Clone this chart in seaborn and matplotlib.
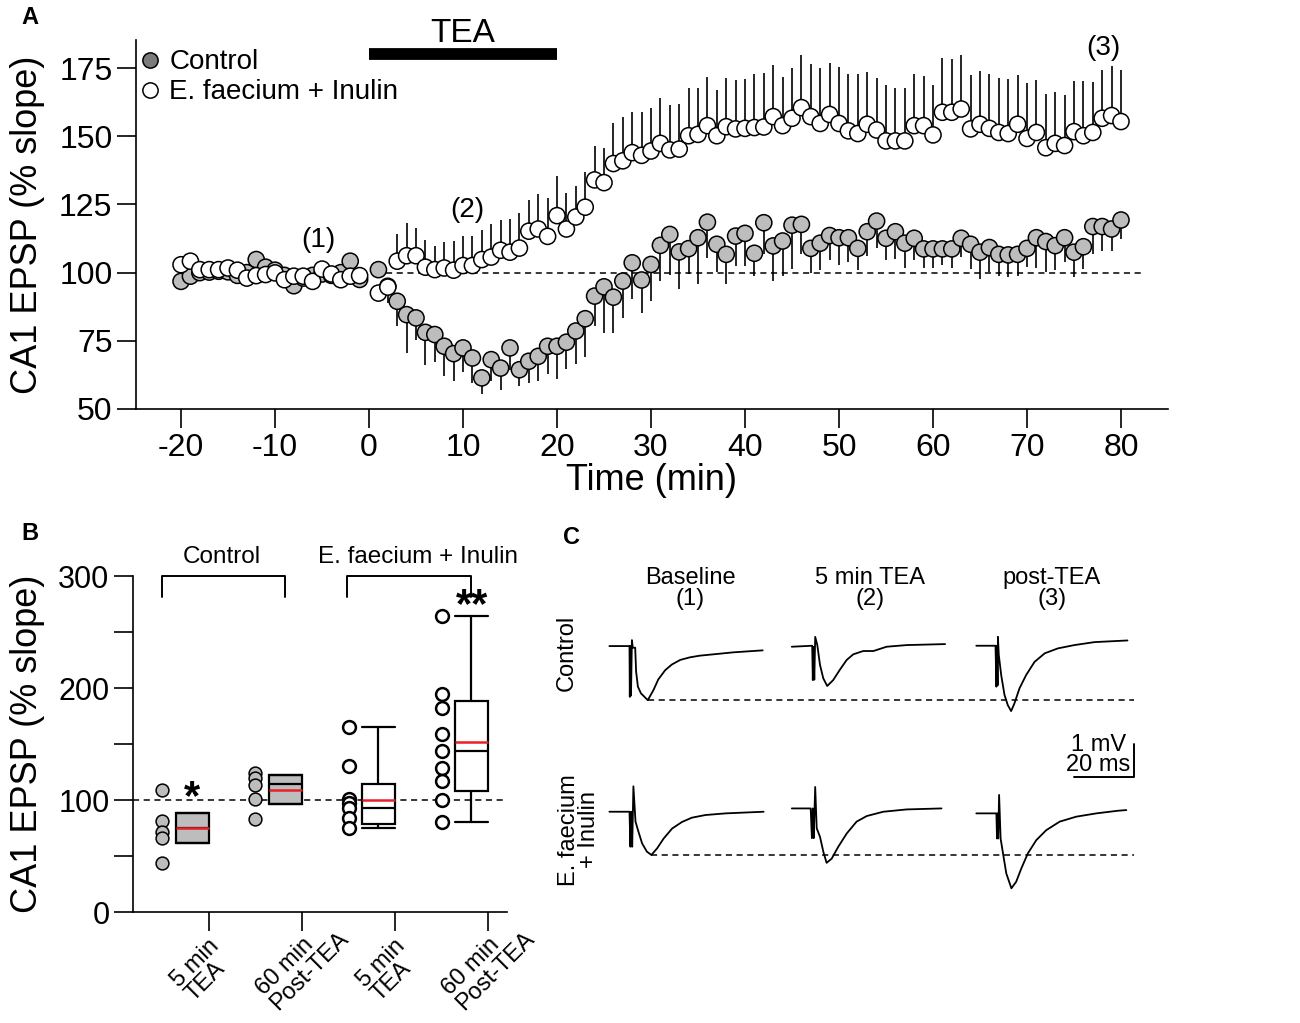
import matplotlib
matplotlib.use("Agg")
import matplotlib.pyplot as plt
from matplotlib.lines import Line2D
import pandas as pd
import seaborn as sns

# ---------------- panel A : fEPSP slope time course (% of baseline) ----------------
time_min = list(range(-20, 0)) + list(range(1, 81))

ctrl_mean = [96.8, 98.7, 100.0, 100.2, 100.5, 100.3, 99.0, 100.0, 104.8, 102.0,
             100.9, 99.0, 95.2, 98.0, 99.0, 99.5, 99.0, 100.0, 104.2, 97.5,
             101.1, 95.0, 89.5, 84.6, 83.4, 78.1, 77.3, 73.0, 70.3, 72.4,
             68.7, 61.4, 68.1, 65.0, 72.4, 64.4, 67.5, 69.3, 73.0, 73.0,
             74.5, 78.6, 83.1, 91.4, 94.8, 91.0, 96.9, 103.6, 97.3, 103.0,
             110.0, 114.0, 107.6, 108.8, 112.8, 118.5, 110.4, 106.7, 113.4, 114.4,
             107.1, 118.3, 109.8, 111.6, 117.4, 117.7, 108.9, 110.8, 113.6, 112.8,
             112.8, 108.9, 115.0, 118.9, 112.6, 115.0, 110.8, 112.6, 108.7, 108.7,
             108.7, 108.7, 112.6, 110.4, 107.5, 109.2, 106.7, 106.5, 106.7, 108.9,
             112.8, 111.4, 109.9, 112.8, 107.5, 109.5, 116.9, 116.9, 116.0, 119.3]
ctrl_sem = [2.0, 1.8, 1.5, 1.6, 1.4, 1.5, 1.7, 1.6, 2.1, 1.8,
            1.6, 1.7, 2.2, 1.8, 1.6, 1.5, 1.7, 1.8, 2.0, 1.9,
            2, 6, 9, 14, 8, 12, 10, 11, 10, 9,
            9, 6, 8, 8, 8, 6, 8, 9, 10, 12,
            10, 12, 14, 11, 17, 13, 13.5, 13.4, 12, 13.5,
            13, 14.7, 13.7, 9.4, 17, 13, 10, 11, 11, 12,
            8.3, 11.6, 12.8, 12.8, 16, 11, 9, 10, 9, 10,
            9, 8, 9, 10, 8, 10, 9, 8, 7, 7,
            6, 7, 7, 9, 10, 9, 8, 8, 8, 7,
            11, 11, 9, 9, 9, 8, 10, 9, 8, 7]

efi_mean = [102.9, 104.2, 101.1, 101.1, 101.1, 101.7, 100.9, 98.0, 98.9, 99.3,
            99.9, 97.4, 98.7, 98.7, 96.8, 101.3, 99.5, 97.4, 98.7, 98.9,
            92.5, 94.7, 104.2, 106.2, 106.2, 102.0, 101.1, 101.7, 100.9, 102.6,
            102.6, 104.8, 105.7, 108.2, 107.5, 109.0, 115.2, 116.0, 113.3, 120.9,
            116.0, 120.4, 124.0, 134.0, 133.0, 140.0, 141.0, 144.0, 143.0, 144.6,
            147.4, 145.0, 145.3, 150.2, 150.7, 153.9, 150.2, 153.5, 152.7, 152.9,
            153.2, 153.4, 157.2, 153.9, 156.6, 160.5, 157.2, 154.7, 158.0, 154.7,
            152.0, 151.0, 154.4, 152.3, 148.3, 148.3, 148.3, 153.9, 153.9, 150.5,
            158.8, 158.8, 160.0, 152.7, 154.4, 152.9, 151.4, 151.0, 154.4, 149.2,
            151.4, 145.8, 147.4, 146.6, 151.7, 150.2, 151.4, 156.6, 157.6, 155.4]
efi_sem = [1.5, 1.8, 1.4, 1.5, 1.6, 1.5, 1.4, 1.7, 1.6, 1.5,
           1.8, 1.6, 1.5, 1.7, 1.9, 1.6, 1.5, 1.8, 1.6, 1.7,
           2, 3, 10, 12, 10, 10, 8.5, 9.4, 10.6, 11,
           10.7, 11, 12, 11, 12, 13, 11.6, 13, 14, 14.4,
           13.2, 11.5, 13, 12.6, 12.8, 15, 16, 15, 16, 15.6,
           16.8, 16.5, 16.4, 17.4, 17, 18, 16.8, 17.7, 18, 18,
           19.5, 19.7, 19, 18, 18.5, 19.3, 19.2, 20.3, 18.7, 20.8,
           21, 21.7, 19.3, 19.2, 20.5, 19.5, 19.5, 18.8, 18.3, 18.3,
           20, 19.5, 19.8, 19.8, 19.6, 20, 19.8, 20, 18, 20.2,
           19.2, 19.6, 19, 18.5, 18.6, 20, 18.4, 17.7, 18.3, 19]

# ---------------- panel B : individual slices and box summaries ----------------
group_ticks = ['5 min\nTEA', '60 min\nPost-TEA', '5 min\nTEA', '60 min\nPost-TEA']
ctrl_5min = [109, 81, 71, 66, 44]
ctrl_60min = [124, 120, 113, 101, 83]
efi_5min = [165, 130, 101, 97, 93, 84, 75]
efi_60min = [264, 195, 182, 159, 144, 129, 117, 100, 80]

box_q1 = [62, 96, 79, 108]
box_q3 = [88, 122, 114, 188]
box_median = [75, 114, 93, 144]
box_mean = [75, 109, 100, 152]
box_whislo = [62, 96, 75, 80]
box_whishi = [88, 122, 165, 264]

# ---------------- panel C : example traces (ms, mV from pre-stimulus baseline) ----------------
ctrl_base_t = [0, 6.7, 6.8, 7.0, 7.2, 7.5, 7.8, 8.6, 8.9, 9.5, 10.5, 12.8, 14.7, 16.3, 18.6,
               20.8, 23.6, 26.9, 30.2, 35.8, 41.3, 51.1]
ctrl_base_v = [0, 0, -1.54, 0, -1.5, 0.18, -0.05, -0.05, -0.77, -1.23, -1.43, -1.64, -1.33,
               -1.01, -0.73, -0.56, -0.42, -0.34, -0.29, -0.24, -0.19, -0.13]
ctrl_tea_t = [0, 6.8, 7.0, 7.2, 7.5, 7.8, 8.5, 9.4, 10.5, 11.8, 13.8, 16.0, 18.3, 20.5, 23.8,
              27.2, 31.6, 38.3, 51.1]
ctrl_tea_v = [0, 0.03, -1.01, 0, -1.0, 0.3, 0.05, -0.55, -0.96, -1.19, -1.01, -0.7, -0.4,
              -0.23, -0.13, -0.13, 0, 0.05, 0.08]
ctrl_post_t = [0, 6.4, 6.7, 6.9, 7.1, 7.2, 7.5, 8.3, 9.4, 10.5, 11.6, 12.7, 14.4, 16.6, 19.4,
               22.8, 27.2, 32.7, 39.4, 50.4]
ctrl_post_v = [0, 0, -1.24, 0, -1.2, 0.27, -0.28, -0.89, -1.49, -1.8, -1.98, -1.75, -1.29,
               -0.89, -0.49, -0.23, -0.08, 0.02, 0.11, 0.16]
efi_base_t = [0, 6.7, 7.0, 7.3, 7.6, 8.0, 8.7, 9.5, 10.9, 12.5, 14.0, 15.9, 18.1, 20.9, 24.2,
              27.5, 32.0, 38.7, 51.4]
efi_base_v = [0, 0, -1.06, 0, -1.06, 0.77, -0.3, -0.55, -0.96, -1.21, -1.31, -1.11, -0.81,
              -0.51, -0.31, -0.18, -0.1, -0.05, 0]
efi_tea_t = [0, 6.3, 6.7, 7.0, 7.3, 7.8, 8.3, 9.4, 10.5, 11.6, 13.3, 15.5, 18.3, 21.6, 25.0,
             30.5, 38.3, 49.9]
efi_tea_v = [0, 0, -0.9, 0, -0.9, 0.65, -0.6, -0.86, -1.31, -1.65, -1.52, -1.16, -0.76, -0.4,
             -0.23, -0.1, -0.03, 0]
efi_post_t = [0, 6.7, 6.9, 7.1, 7.3, 7.6, 8.1, 8.9, 10.0, 11.7, 13.3, 15.0, 17.2, 20.0, 23.3,
              27.8, 33.3, 40.0, 47.2, 50.0]
efi_post_v = [0, 0, -0.76, 0, -0.76, 0.56, -0.76, -1.21, -1.82, -2.27, -2.07, -1.67, -1.21,
              -0.81, -0.51, -0.25, -0.1, 0, 0.08, 0.1]
trace_titles = ['Baseline\n(1)', '5 min TEA\n(2)', 'post-TEA\n(3)']

sns.set_style('ticks')
plt.rcParams['font.family'] = ['Liberation Sans', 'DejaVu Sans']
plt.rcParams['axes.unicode_minus'] = False
plt.rcParams['axes.linewidth'] = 1.2
plt.rcParams['axes.edgecolor'] = 'black'
plt.rcParams['text.color'] = 'black'
plt.rcParams['axes.labelcolor'] = 'black'
plt.rcParams['xtick.color'] = 'black'
plt.rcParams['ytick.color'] = 'black'

W, H = 1300, 1023
fig = plt.figure(figsize=(W / 100, H / 100), dpi=100)


def px_rect(left, top, right, bottom):
    return [left / W, 1 - bottom / H, (right - left) / W, (bottom - top) / H]


gray_pt = '#bdbdbd'

# ---------------- A ----------------
ax = fig.add_axes(px_rect(136, 40, 1168, 409))
df_a = pd.DataFrame({
    'time': time_min + time_min,
    'epsp': ctrl_mean + efi_mean,
    'group': ['Control'] * len(time_min) + ['E. faecium + Inulin'] * len(time_min),
})
ax.vlines(time_min, [m - s for m, s in zip(ctrl_mean, ctrl_sem)], ctrl_mean,
          color='k', lw=1.2, zorder=2)
ax.vlines(time_min, efi_mean, [m + s for m, s in zip(efi_mean, efi_sem)],
          color='k', lw=1.2, zorder=2)
ax.hlines(100, 1.8, 82.3, color='k', lw=1.1, linestyles=(0, (4, 3)), zorder=1)
sns.scatterplot(data=df_a, x='time', y='epsp', hue='group',
                palette={'Control': gray_pt, 'E. faecium + Inulin': 'white'},
                edgecolor='k', linewidth=1.1, s=135, legend=False, ax=ax, zorder=3)

ax.plot([0, 20], [180, 180], color='k', lw=8.5, solid_capstyle='butt', clip_on=False)
ax.text(10, 187.5, 'TEA', fontsize=24, ha='center', va='center')
ax.text(-5.4, 112, '(1)', fontsize=20, ha='center', va='center')
ax.text(10.5, 123, '(2)', fontsize=20, ha='center', va='center')
ax.text(78.1, 182.5, '(3)', fontsize=20, ha='center', va='center')

handles = [Line2D([], [], ls='', marker='o', ms=11, mfc='#7c7c7c', mec='k', mew=1.1, label='Control'),
           Line2D([], [], ls='', marker='o', ms=11, mfc='white', mec='k', mew=1.1, label='E. faecium + Inulin')]
ax.legend(handles=handles, loc='upper left', bbox_to_anchor=(0, 0.975), frameon=False,
          fontsize=20, handlelength=1.0, handletextpad=0.2, borderaxespad=0, borderpad=0,
          labelspacing=0.15)

ax.set_xlim(-24.79, 85)
ax.set_ylim(50, 185.3)
ax.set_xticks(range(-20, 81, 10))
ax.set_yticks(range(50, 176, 25))
ax.tick_params(length=14, width=1.2, labelsize=23, pad=3)
ax.set_xlabel('Time (min)', fontsize=26, va='top')
ax.xaxis.set_label_coords(0.5, -0.145)
ax.set_ylabel('CA1 EPSP (% slope)', fontsize=26)
ax.yaxis.set_label_coords(-0.088, 0.5)
sns.despine(ax=ax)

# ---------------- B ----------------
axb = fig.add_axes(px_rect(133, 576, 507, 912))
b_sets = [ctrl_5min, ctrl_60min, efi_5min, efi_60min]
rows = []
for i, vals in enumerate(b_sets):
    for v in vals:
        rows.append({'pos': i + 0.5, 'value': v, 'filled': i < 2})
df_b = pd.DataFrame(rows)
axb.axhline(100, color='k', lw=1.1, ls=(0, (4, 3)), zorder=1)

stats = []
for i in range(4):
    stats.append(dict(q1=box_q1[i], q3=box_q3[i], med=box_median[i], mean=box_mean[i],
                      whislo=box_whislo[i], whishi=box_whishi[i], fliers=[]))
bp = axb.bxp(stats, positions=[i + 0.82 for i in range(4)], widths=0.36, capwidths=0.36,
             patch_artist=True, showmeans=True, meanline=True, showfliers=False,
             boxprops=dict(lw=1.6, edgecolor='k'),
             whiskerprops=dict(lw=1.6, color='k'), capprops=dict(lw=1.6, color='k'),
             medianprops=dict(lw=1.6, color='k'),
             meanprops=dict(lw=1.8, color='#e8202a', ls='-'), manage_ticks=False)
for i, patch in enumerate(bp['boxes']):
    patch.set_facecolor(gray_pt if i < 2 else 'white')
    patch.set_zorder(2)

sns.scatterplot(data=df_b[df_b['filled']], x='pos', y='value', color=gray_pt, edgecolor='k',
                linewidth=1.1, s=85, legend=False, ax=axb, zorder=3)
sns.scatterplot(data=df_b[~df_b['filled']], x='pos', y='value', color='white', edgecolor='k',
                linewidth=1.8, s=85, legend=False, ax=axb, zorder=3)

axb.text(0.82, 102, '*', fontsize=30, ha='center', va='center', fontweight='bold')
axb.text(3.83, 273, '**', fontsize=30, ha='center', va='center', fontweight='bold')
axb.plot([0.5, 0.5, 1.82, 1.82], [281, 300, 300, 281], color='k', lw=1.4, clip_on=False)
axb.plot([2.48, 2.48, 3.82, 3.82], [281, 300, 300, 281], color='k', lw=1.4, clip_on=False)
axb.text(1.14, 317, 'Control', fontsize=17.5, ha='center', va='center')
axb.text(3.25, 317, 'E. faecium + Inulin', fontsize=17.5, ha='center', va='center')

axb.set_xlim(0.183, 4.204)
axb.set_ylim(0, 300)
axb.set_xticks([1, 2, 3, 4])
axb.set_xticklabels([])
# rotated two-line group labels hanging below each tick
for i, lab in enumerate(group_ticks):
    short = lab.startswith('5')
    axb.annotate(lab, xy=(i + 1, 0), xycoords='data',
                 xytext=(-30 if short else -36, -46 if short else -52),
                 textcoords='offset points', rotation=45, rotation_mode='anchor',
                 ha='left', va='top', multialignment='left', linespacing=0.9,
                 fontsize=17, annotation_clip=False)
axb.set_yticks([0, 100, 200, 300])
axb.set_yticks([50, 150, 250], minor=True)
axb.tick_params(which='both', length=14, width=1.2, labelsize=22, pad=3)
axb.set_xlabel('')
axb.set_ylabel('CA1 EPSP (% slope)', fontsize=26)
axb.yaxis.set_label_coords(-0.235, 0.5)
sns.despine(ax=axb)

# ---------------- C ----------------
axc = fig.add_axes(px_rect(595, 620, 1145, 900))
col_start = [4.8, 65.6, 127.1]
ctrl_level = [-0.79, -0.81, -0.78]
efi_level = [-5.81, -5.71, -5.86]
ctrl_traces = [(ctrl_base_t, ctrl_base_v), (ctrl_tea_t, ctrl_tea_v), (ctrl_post_t, ctrl_post_v)]
efi_traces = [(efi_base_t, efi_base_v), (efi_tea_t, efi_tea_v), (efi_post_t, efi_post_v)]
for traces, levels in [(ctrl_traces, ctrl_level), (efi_traces, efi_level)]:
    for j, (tt, vv) in enumerate(traces):
        sns.lineplot(x=[col_start[j] + t for t in tt], y=[levels[j] + v for v in vv],
                     sort=False, estimator=None, color='k', lw=1.3, ax=axc)
    # dashed reference at the peak of the baseline response
    base_t, base_v = traces[0]
    k = base_v.index(min(base_v))
    axc.hlines(levels[0] + base_v[k], col_start[0] + base_t[k], 179.5, color='k', lw=1.1,
               linestyles=(0, (4, 3)))

for j, title in enumerate(trace_titles):
    axc.text([31.7, 91.7, 152.3][j], 0.95, title, fontsize=17, ha='center', va='center',
             linespacing=0.95)
axc.text(-9.3, -1.0, 'Control', fontsize=17, rotation=90, ha='center', va='center')
axc.text(-5.3, -6.36, 'E. faecium\n+ Inulin', fontsize=17, rotation=90, ha='center',
         va='center', linespacing=0.9)

# scale bar: 1 mV, 20 ms
axc.plot([159.7, 179.7, 179.7], [-4.76, -4.76, -3.76], color='k', lw=1.4)
axc.text(177, -3.79, '1 mV', fontsize=17, ha='right', va='center')
axc.text(178.3, -4.39, '20 ms', fontsize=17, ha='right', va='center')
axc.set_xlim(0, 550 / 3)
axc.set_ylim(-280 / 33, 0)
axc.axis('off')

# panel letters
fig.text(30 / W, 1 - 18 / H, 'A', fontsize=17, fontweight='bold', ha='center', va='center')
fig.text(30 / W, 1 - 533 / H, 'B', fontsize=17, fontweight='bold', ha='center', va='center')
fig.text(572 / W, 1 - 537 / H, 'C', fontsize=17, fontweight='bold', ha='center', va='center')

fig.savefig('out.png', dpi=100)
